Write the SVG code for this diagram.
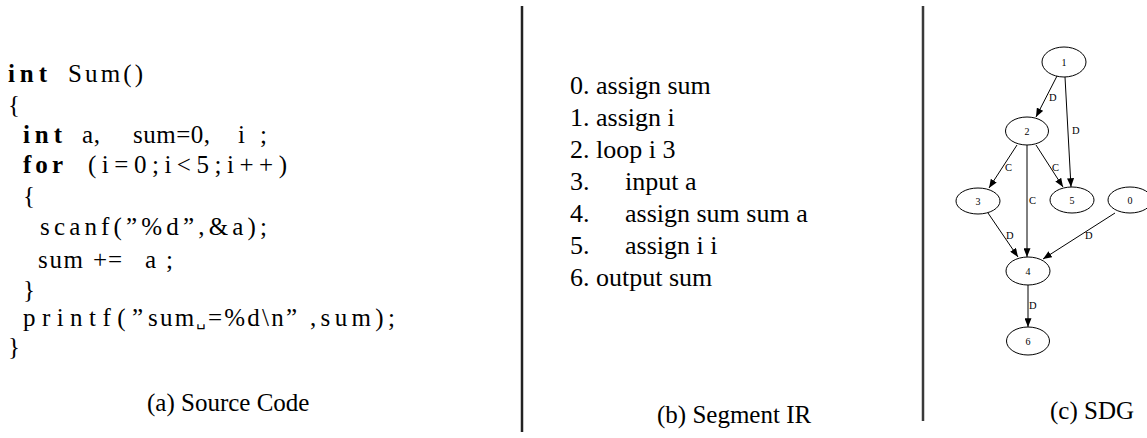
<svg xmlns="http://www.w3.org/2000/svg" width="1147" height="438" viewBox="0 0 1147 438">
<defs>
<style>
.t{font-family:"Liberation Serif","DejaVu Serif",serif;fill:#000}
.code{font-size:25px}
.kw{font-weight:bold}
.cap{font-size:25px}
.ir{font-size:26px}
.nl{font-size:10px;text-anchor:middle}
.el{font-size:10.5px}
.vs{font-size:15px;font-family:"DejaVu Sans",sans-serif}
.node ellipse{fill:#fff;stroke:#000;stroke-width:1}
.edge{stroke:#000;stroke-width:1;fill:none;marker-end:url(#ah)}
.sep{stroke:#222;stroke-width:2.5}
</style>
<marker id="ah" viewBox="0 0 10 8" refX="10" refY="4" markerWidth="9" markerHeight="7" markerUnits="userSpaceOnUse" orient="auto">
<path d="M0,0 L10,4 L0,8 z" fill="#000"/>
</marker>
</defs>
<rect width="1147" height="438" fill="#fff"/>

<g id="source-code" class="t code">
<text x="8" y="82" class="kw" textLength="39" lengthAdjust="spacing">int</text>
<text x="68" y="82" textLength="75" lengthAdjust="spacing">Sum()</text>
<text x="8" y="113">{</text>
<text x="23" y="143" class="kw" textLength="39" lengthAdjust="spacing">int</text>
<text x="82" y="143" textLength="18" lengthAdjust="spacing">a,</text>
<text x="133" y="143" textLength="77" lengthAdjust="spacing">sum=0,</text>
<text x="238" y="143" textLength="29" lengthAdjust="spacing">i;</text>
<text x="23" y="173" class="kw" textLength="40" lengthAdjust="spacing">for</text>
<text x="88" y="173" textLength="199" lengthAdjust="spacing">(i=0;i&lt;5;i++)</text>
<text x="23" y="204">{</text>
<text x="40" y="235" textLength="227" lengthAdjust="spacing">scanf(”%d”,&amp;a);</text>
<text x="38" y="268" textLength="45" lengthAdjust="spacing">sum</text>
<text x="93" y="268" textLength="29" lengthAdjust="spacing">+=</text>
<text x="145" y="268" textLength="28" lengthAdjust="spacing">a;</text>
<text x="23" y="298">}</text>
<text x="23" y="326" textLength="120" lengthAdjust="spacing">printf(”</text>
<text x="148" y="326" textLength="149" lengthAdjust="spacing">sum<tspan class="vs">␣</tspan>=%d\n”</text>
<text x="310" y="326" textLength="85" lengthAdjust="spacing">,sum);</text>
<text x="8" y="355">}</text>
<text x="147" y="411" class="cap">(a) Source Code</text>
</g>

<g id="separators">
<line class="sep" x1="522" y1="6" x2="522" y2="432"/>
<line class="sep" x1="923" y1="6" x2="923" y2="421" style="stroke:#3a3a3a"/>
</g>

<g id="segment-ir" class="t ir">
<text x="570" y="94">0. assign sum</text>
<text x="570" y="126">1. assign i</text>
<text x="570" y="158">2. loop i 3</text>
<text x="570" y="190">3.</text><text x="625" y="190">input a</text>
<text x="570" y="222">4.</text><text x="625" y="222">assign sum sum a</text>
<text x="570" y="254">5.</text><text x="625" y="254">assign i i</text>
<text x="570" y="286">6. output sum</text>
<text x="657" y="423" class="cap">(b) Segment IR</text>
</g>

<g id="connectors">
<line class="edge" x1="1057" y1="76" x2="1036" y2="117"/>
<line class="edge" x1="1065" y1="77" x2="1071" y2="187"/>
<line class="edge" x1="1017" y1="145" x2="989" y2="188"/>
<line class="edge" x1="1027" y1="145" x2="1027" y2="257"/>
<line class="edge" x1="1036" y1="145" x2="1063" y2="187"/>
<line class="edge" x1="988" y1="213" x2="1018" y2="257"/>
<line class="edge" x1="1115" y1="213" x2="1043" y2="259"/>
<line class="edge" x1="1028" y1="285" x2="1028" y2="327"/>
<g class="t el">
<text x="1049" y="101">D</text>
<text x="1072" y="134">D</text>
<text x="1005" y="171">C</text>
<text x="1029" y="204">C</text>
<text x="1052" y="171">C</text>
<text x="1006" y="239">D</text>
<text x="1085" y="239">D</text>
<text x="1029" y="309">D</text>
</g>
</g>

<g id="node-1" class="node"><ellipse cx="1064" cy="62" rx="22" ry="15"/><text class="t nl" x="1064" y="65.5">1</text></g>
<g id="node-2" class="node"><ellipse cx="1027" cy="131" rx="21.5" ry="14"/><text class="t nl" x="1027" y="134.5">2</text></g>
<g id="node-3" class="node"><ellipse cx="978" cy="201" rx="22" ry="13"/><text class="t nl" x="978" y="204.5">3</text></g>
<g id="node-5" class="node"><ellipse cx="1072" cy="200" rx="22" ry="13"/><text class="t nl" x="1072" y="203.5">5</text></g>
<g id="node-0" class="node"><ellipse cx="1130" cy="200" rx="22" ry="13"/><text class="t nl" x="1130" y="203.5">0</text></g>
<g id="node-4" class="node"><ellipse cx="1028" cy="271" rx="22" ry="14"/><text class="t nl" x="1028" y="274.5">4</text></g>
<g id="node-6" class="node"><ellipse cx="1028" cy="341" rx="21.5" ry="14"/><text class="t nl" x="1028" y="344.5">6</text></g>

<g id="caption-c" class="t cap"><text x="1050" y="419">(c) SDG</text></g>
</svg>
